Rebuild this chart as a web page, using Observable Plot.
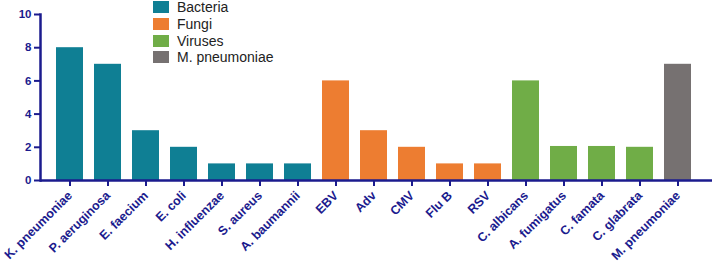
<!DOCTYPE html>
<html><head><meta charset="utf-8">
<script src="https://cdn.jsdelivr.net/npm/d3@7"></script>
<script src="https://cdn.jsdelivr.net/npm/@observablehq/plot@0.6"></script>
<style>
body{margin:0;background:#fff;font-family:"Liberation Sans",Arial,sans-serif;}
#wrap{position:relative;width:712px;height:262px;}
#legend{position:absolute;left:153px;top:-1px;font-size:14px;color:#222;}
.row{display:flex;align-items:center;height:16.7px;}
.sw{width:16px;height:12px;margin-right:8px;}
</style></head><body><div id="wrap"><div id="legend"></div></div>
<script>
const categories = ["K. pneumoniae","P. aeruginosa","E. faecium","E. coli","H. influenzae","S. aureus","A. baumannii","EBV","Adv","CMV","Flu B","RSV","C. albicans","A. fumigatus","C. famata","C. glabrata","M. pneumoniae"];
const counts = [8,7,3,2,1,1,1,6,3,2,1,1,6,2.05,2.05,2,7];
const groups = ["Bacteria","Bacteria","Bacteria","Bacteria","Bacteria","Bacteria","Bacteria","Fungi","Fungi","Fungi","Fungi","Fungi","Viruses","Viruses","Viruses","Viruses","M. pneumoniae"];
const groupNames = ["Bacteria","Fungi","Viruses","M. pneumoniae"];
const groupColors = ["#0f7f94","#ed7d31","#70ad47","#767171"];
const yTicks = [0,2,4,6,8,10];

const data = categories.map((c,i)=>({category:c,count:counts[i],group:groups[i]}));
const navy = "#1b1b8e";
const chart = Plot.plot({
  width:712,height:262,marginLeft:40,marginRight:0,marginTop:14,marginBottom:82,
  style:{fontFamily:"Liberation Sans, Arial, sans-serif",color:navy,background:"#fff",overflow:"visible"},
  x:{domain:categories,paddingInner:0.3,paddingOuter:0.339,align:0.44,label:null},
  y:{domain:[0,10],label:null},
  color:{domain:groupNames,range:groupColors},
  marks:[
    Plot.barY(data,{x:"category",y:"count",fill:"group"}),
    Plot.axisY({ticks:yTicks,tickSize:6,tickPadding:3,fontSize:11.5,fontWeight:"bold",stroke:navy,strokeWidth:2,label:null}),
    Plot.axisX({tickSize:6,tickRotate:-45,tickPadding:7,fontSize:12.5,fontWeight:"bold",stroke:navy,strokeWidth:2,label:null}),
    Plot.ruleY([0],{stroke:navy,strokeWidth:2.5}),
    Plot.frame({anchor:"left",stroke:navy,strokeWidth:2.5})
  ]
});
document.getElementById("wrap").appendChild(chart);
const lg = document.getElementById("legend");
groupNames.forEach((g,i)=>{
  const r=document.createElement("div");r.className="row";
  const s=document.createElement("div");s.className="sw";s.style.background=groupColors[i];
  const t=document.createElement("span");t.textContent=g;
  r.appendChild(s);r.appendChild(t);lg.appendChild(r);
});
lg.style.zIndex=2;
</script></body></html>
